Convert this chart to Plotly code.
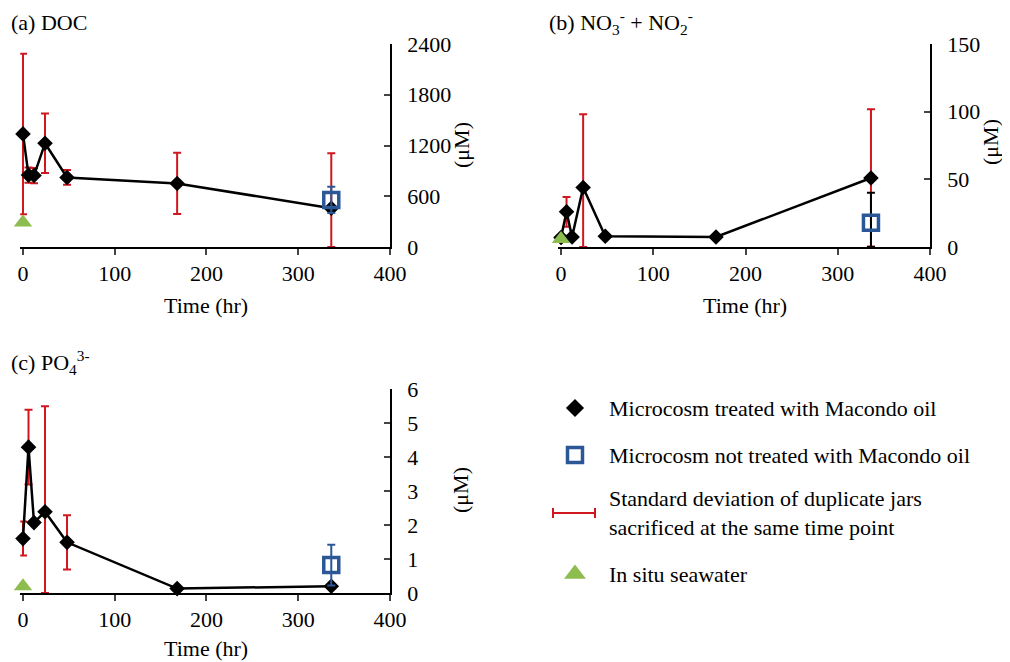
import plotly.graph_objects as go

W, H = 1010, 662
OFF = 8                      # page body margin
WF, HF = W - OFF, H - OFF    # figure size
FONT = "Liberation Serif"
FS = 22

# ---------------- data ----------------
time_hr = [0, 6, 12, 24, 48, 168, 336]

doc_oil = [1337, 850, 845, 1226, 822, 751, 459]
doc_oil_sd = [949, 90, 90, 352, 87, 362, 650]
doc_ctrl_t = [336]
doc_ctrl = [557]
doc_ctrl_sd = [155]
doc_insitu = [289]

nox_oil = [7, 26, 7.4, 44, 7.9, 7.4, 51]
nox_oil_sd = [0, 11, 0, 54, 0, 0, 50.7]
nox_ctrl_t = [336]
nox_ctrl = [18]
nox_ctrl_sd = [22]
nox_insitu = [6]

po4_oil = [1.60, 4.29, 2.07, 2.39, 1.49, 0.13, 0.20]
po4_oil_sd = [0.5, 1.1, 0, 3.1, 0.8, 0, 0]
po4_ctrl_t = [336]
po4_ctrl = [0.82]
po4_ctrl_sd = [0.6]
po4_insitu = [0.2]

x_ticks = [0, 100, 200, 300, 400]
doc_ticks = [0, 600, 1200, 1800, 2400]
nox_ticks = [0, 50, 100, 150]
po4_ticks = [0, 1, 2, 3, 4, 5, 6]

legend_labels = [
    "Microcosm treated with Macondo oil",
    "Microcosm not treated with Macondo oil",
    "Standard deviation of duplicate jars<br>sacrificed at the same time point",
    "In situ seawater",
]

# ---------------- style ----------------
BLACK = "#000000"
RED = "#D0161E"
BLUE = "#2B5797"
GREEN = "#8CBD4E"
XMIN, XMAX = -3, 400   # small left pad so marks at t=0 are not clipped


def px_x(p):
    return (p - OFF) / WF


def px_y(p):
    return 1 - (p - OFF) / HF


fig = go.Figure()

panels = [
    ("", doc_oil, doc_oil_sd, doc_ctrl_t, doc_ctrl, doc_ctrl_sd, doc_insitu, doc_ticks, (23, 390), (44, 247), BLUE),
    ("2", nox_oil, nox_oil_sd, nox_ctrl_t, nox_ctrl, nox_ctrl_sd, nox_insitu, nox_ticks, (561, 930), (44, 247), BLACK),
    ("3", po4_oil, po4_oil_sd, po4_ctrl_t, po4_ctrl, po4_ctrl_sd, po4_insitu, po4_ticks, (23, 390), (389, 593), BLUE),
]

for suf, oil, sd, ct, cv, csd, ins, yt, xd, yd, cerr in panels:
    xa = "x" + suf
    ya = "y" + suf
    ppu = (xd[1] - xd[0]) / XMAX
    left_px = xd[0] + XMIN * ppu
    minus = [min(s, v) for s, v in zip(sd, oil)]
    fig.add_trace(go.Scatter(
        x=time_hr, y=oil, mode="lines+markers", xaxis=xa, yaxis=ya,
        line=dict(color=BLACK, width=2.5),
        marker=dict(symbol="diamond", size=12, color=BLACK),
        error_y=dict(type="data", array=sd, arrayminus=minus, symmetric=False,
                     color=RED, thickness=2, width=4),
        cliponaxis=False, showlegend=False,
    ))
    cminus = [min(s, v) for s, v in zip(csd, cv)]
    fig.add_trace(go.Scatter(
        x=ct, y=cv, mode="markers", xaxis=xa, yaxis=ya,
        marker=dict(symbol="square-open", size=15, color=BLUE, line=dict(width=3.5, color=BLUE)),
        error_y=dict(type="data", array=csd, arrayminus=cminus, symmetric=False,
                     color=cerr, thickness=2, width=4),
        cliponaxis=False, showlegend=False,
    ))
    fig.add_trace(go.Scatter(
        x=[0] * len(ins), y=ins, mode="markers", xaxis=xa, yaxis=ya,
        marker=dict(symbol="triangle-up", size=16, color=GREEN),
        cliponaxis=False, showlegend=False,
    ))
    axkey = "xaxis" + suf
    aykey = "yaxis" + suf
    fig.update_layout({
        axkey: dict(domain=[px_x(left_px), px_x(xd[1])], range=[XMIN, XMAX], anchor=ya,
                    tickvals=x_ticks, ticks="outside", ticklen=6, tickwidth=1.5,
                    showline=True, linecolor=BLACK, linewidth=1.5, showgrid=False,
                    zeroline=False, automargin=False,
                    tickfont=dict(family=FONT, size=FS, color=BLACK)),
        aykey: dict(domain=[px_y(yd[1]), px_y(yd[0])], range=[0, yt[-1]], anchor=xa,
                    side="right", tickvals=yt, ticks="inside", ticklen=6, tickwidth=1.5,
                    showline=True, linecolor=BLACK, linewidth=1.5, showgrid=False,
                    zeroline=False, automargin=False, ticklabelstandoff=11,
                    tickfont=dict(family=FONT, size=FS, color=BLACK)),
    })

# ---------------- legend (hidden full-figure axis in pixel units) ----------------
leg_x_marker = [575, 575, 574, 575]
leg_y = [408, 455, 513, 574]
fig.add_trace(go.Scatter(x=[leg_x_marker[0]], y=[leg_y[0]], xaxis="x4", yaxis="y4", mode="markers",
                         marker=dict(symbol="diamond", size=14, color=BLACK), showlegend=False))
fig.add_trace(go.Scatter(x=[leg_x_marker[1]], y=[leg_y[1]], xaxis="x4", yaxis="y4", mode="markers",
                         marker=dict(symbol="square-open", size=15, color=BLUE, line=dict(width=3.5, color=BLUE)),
                         showlegend=False))
fig.add_trace(go.Scatter(x=[leg_x_marker[2]], y=[leg_y[2]], xaxis="x4", yaxis="y4", mode="markers",
                         marker=dict(size=1, color="rgba(0,0,0,0)"),
                         error_x=dict(type="constant", value=21, color=RED, thickness=2, width=5),
                         showlegend=False))
fig.add_trace(go.Scatter(x=[leg_x_marker[3]], y=[leg_y[3]], xaxis="x4", yaxis="y4", mode="markers",
                         marker=dict(symbol="triangle-up", size=19, color=GREEN), showlegend=False))
fig.update_layout(
    xaxis4=dict(domain=[0, 1], range=[OFF, OFF + WF], visible=False, anchor="y4"),
    yaxis4=dict(domain=[0, 1], range=[OFF + HF, OFF], visible=False, anchor="x4"),
)

ann = []
text_y = [408, 455, 513, 574]
for lab, ty in zip(legend_labels, text_y):
    ann.append(dict(x=px_x(607), y=px_y(ty), text=lab, xanchor="left", align="left"))

ann.append(dict(x=px_x(9), y=px_y(22), text="(a) DOC", xanchor="left"))
ann.append(dict(x=px_x(547), y=px_y(22), text="(b) NO<sub>3</sub><sup>-</sup> + NO<sub>2</sub><sup>-</sup>", xanchor="left"))
ann.append(dict(x=px_x(9), y=px_y(362), text="(c) PO<sub>4</sub><sup>3-</sup>", xanchor="left"))
for cx, cy in [(206, 305), (745, 305), (206, 648)]:
    ann.append(dict(x=px_x(cx), y=px_y(cy), text="Time (hr)", xanchor="center"))
for cx, cy in [(461, 145), (990, 142), (461, 490)]:
    ann.append(dict(x=px_x(cx), y=px_y(cy), text="(μM)", xanchor="center", textangle=-90))

for a in ann:
    a.setdefault("xref", "paper")
    a.setdefault("yref", "paper")
    a.setdefault("showarrow", False)
    a.setdefault("yanchor", "middle")
    a["font"] = dict(family=FONT, size=FS, color=BLACK)

fig.update_layout(
    width=WF, height=HF,
    margin=dict(l=0, r=0, t=0, b=0, pad=0, autoexpand=False),
    paper_bgcolor="white", plot_bgcolor="rgba(0,0,0,0)",
    annotations=ann,
    font=dict(family=FONT, size=FS, color=BLACK),
    showlegend=False,
)

fig.write_html("out.html")
